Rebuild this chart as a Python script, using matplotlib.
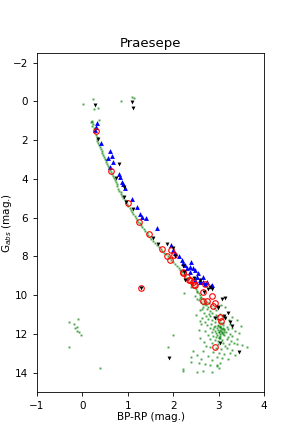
import matplotlib
matplotlib.use("Agg")
import matplotlib.pyplot as plt

# green: all cluster members (BP-RP, G_abs)
green_bprp = [
    # bright/top stragglers
    0.02, 0.23, 0.26, 0.34, 0.85, 1.10, 1.14, 0.37, 0.18, 0.21,
    # upper main sequence
    0.21, 0.23, 0.22, 0.25, 0.26, 0.28, 0.29, 0.31, 0.32, 0.33, 0.35, 0.37,
    0.38, 0.40, 0.42, 0.44, 0.45, 0.47, 0.49, 0.51, 0.53, 0.54, 0.57, 0.59,
    0.61, 0.63, 0.65, 0.67, 0.69, 0.71, 0.73, 0.76, 0.77, 0.79, 0.81, 0.84,
    0.86, 0.88, 0.90, 0.93, 0.96, 0.98, 1.01, 1.04, 1.06, 1.09, 1.12, 1.15,
    1.17, 1.20, 1.23, 1.26, 1.29, 1.32, 1.35, 1.38, 1.42, 1.45, 1.49, 1.52,
    1.56, 1.60, 1.64, 1.68, 1.72, 1.76, 1.80, 1.84, 1.88, 1.92, 1.96, 2.00,
    2.04, 2.08, 2.12, 2.16, 2.20, 2.23, 2.26, 2.30, 2.33, 2.36, 2.40, 2.44,
    2.47, 2.50, 2.53, 2.56, 2.59, 2.62, 2.65, 2.68, 2.71, 2.73, 2.76,
    2.40, 2.52, 2.58, 2.48, 2.66, 2.56, 2.74, 2.64,
    # lower main sequence cloud
    2.62, 2.70, 2.78, 2.66, 2.84, 2.74, 2.90, 2.60, 2.80, 2.95, 3.05, 2.52,
    3.15, 2.68, 2.78, 2.86, 2.94, 3.02, 2.72, 2.82, 2.90, 2.98, 3.08, 2.64,
    2.76, 2.86, 2.96, 3.04, 3.14, 2.58, 2.70, 2.92, 3.00, 3.10, 3.22, 3.30,
    2.50, 3.40, 2.62, 2.74, 2.84, 2.92, 2.98, 3.04, 3.10, 3.18, 3.26, 2.80,
    2.88, 2.96, 3.02, 3.06, 3.12, 3.20, 3.30, 2.70, 2.86, 2.94, 3.00, 3.08,
    3.16, 3.24, 3.36, 3.44, 2.56, 3.50, 2.76, 2.88, 2.96, 3.04, 3.12, 3.20,
    3.30, 2.82, 2.92, 3.00, 3.08, 3.18, 3.28, 3.40, 2.68, 2.86, 2.98, 3.10,
    3.22, 3.34, 3.52, 2.58, 3.62, 2.72, 3.14, 2.80, 2.94, 3.06, 3.18, 3.30,
    2.66, 2.88, 3.00, 3.12, 3.26, 2.52, 2.76, 2.96, 3.08, 3.20, 2.44, 2.62,
    2.86, 3.36, 2.40, 2.56, 2.70, 2.82, 2.96, 3.04, 3.00, 2.52, 2.66, 2.86,
    2.22, 2.22, 2.40, 2.96, 3.02, 3.06, 3.10, 2.98, 3.04, 3.08, 3.00, 3.12,
    2.98, 3.03, 3.07, 2.93, 3.01, 3.09, 2.95, 3.05, 2.90, 3.11, 2.99, 3.02,
    # outliers
    2.24, 1.89, 1.99, 3.40,
    # white dwarfs
    -0.30, -0.10, -0.18, -0.13, -0.16, -0.11, -0.07, -0.04, -0.29, 0.39,
]
green_gabs = [
    0.15, -0.14, 0.38, 0.35, -0.02, -0.22, -0.19, 0.94, 1.07, 1.01,
    1.05, 1.15, 1.25, 1.35, 1.50, 1.60, 1.72, 1.85, 1.95, 2.05, 2.15, 2.27,
    2.35, 2.45, 2.56, 2.65, 2.75, 2.85, 2.95, 3.05, 3.15, 3.24, 3.35, 3.45,
    3.55, 3.65, 3.75, 3.85, 3.95, 4.05, 4.15, 4.27, 4.35, 4.50, 4.60, 4.70,
    4.80, 4.90, 5.00, 5.10, 5.20, 5.30, 5.40, 5.50, 5.60, 5.70, 5.80, 5.92,
    6.00, 6.10, 6.20, 6.30, 6.40, 6.50, 6.60, 6.70, 6.80, 6.90, 7.00, 7.10,
    7.20, 7.30, 7.40, 7.50, 7.60, 7.70, 7.80, 7.90, 8.00, 8.10, 8.20, 8.30,
    8.40, 8.50, 8.60, 8.70, 8.80, 8.90, 9.00, 9.12, 9.20, 9.30, 9.40, 9.50,
    9.60, 9.70, 9.80, 9.90, 10.00, 10.10, 10.20, 10.30, 10.40, 10.50, 10.60,
    9.60, 9.85, 10.15, 10.05, 10.45, 10.25, 10.35, 10.70,
    10.35, 10.45, 10.40, 10.60, 10.55, 10.70, 10.65, 10.75, 10.80, 10.75, 10.50, 10.20,
    10.60, 10.90, 10.95, 10.90, 11.00, 10.95, 11.05, 11.10, 11.15, 11.10, 11.05, 11.20,
    11.25, 11.30, 11.25, 11.30, 11.20, 11.35, 11.40, 11.40, 11.38, 11.42, 11.30, 11.15,
    11.00, 11.30, 11.50, 11.55, 11.50, 11.60, 11.52, 11.60, 11.55, 11.62, 11.50, 11.70,
    11.75, 11.70, 11.78, 11.68, 11.80, 11.75, 11.70, 11.85, 11.90, 11.95, 11.88, 11.95,
    11.90, 11.98, 11.85, 11.95, 11.80, 11.60, 12.05, 12.10, 12.05, 12.12, 12.05, 12.15,
    12.10, 12.25, 12.30, 12.22, 12.30, 12.28, 12.35, 12.25, 12.40, 12.45, 12.50, 12.45,
    12.52, 12.45, 12.55, 12.20, 12.70, 12.60, 12.60, 12.70, 12.75, 12.80, 12.72, 12.85,
    12.90, 12.95, 13.00, 13.05, 13.00, 13.10, 13.15, 13.20, 13.25, 13.30, 12.90, 13.30,
    13.35, 13.10, 13.45, 13.50, 13.55, 13.60, 13.60, 13.50, 13.75, 13.95, 13.90, 13.95,
    13.80, 13.90, 13.20, 13.65, 11.65, 11.85, 11.72, 11.82, 12.00, 11.92, 12.18, 11.76,
    11.58, 11.66, 11.74, 11.83, 11.91, 12.02, 12.14, 11.46, 11.62, 11.88, 12.38, 12.20,
    9.91, 12.66, 12.08, 12.50,
    11.36, 11.25, 11.49, 11.63, 11.72, 11.86, 11.92, 12.06, 12.70, 13.76,
]

# blue: up triangles
blue_bprp = [0.31, 0.30, 0.28, 0.41, 0.61, 0.65, 0.56, 0.67, 0.61, 0.81,
             0.83, 0.87, 0.89, 0.93, 1.10, 1.20, 1.27, 1.31, 1.40, 1.65,
             1.94, 2.00, 2.05, 2.13, 2.19, 2.22, 2.39, 2.37, 2.43, 2.48,
             2.52, 2.59, 2.66, 2.74, 2.83, 2.37, 2.55, 2.48, 2.59, 2.70,
             2.85, 2.66, 2.30, 2.26]
blue_gabs = [1.12, 1.32, 1.50, 2.15, 2.58, 2.80, 2.92, 3.13, 3.39, 3.73,
             3.90, 4.16, 4.28, 4.45, 5.05, 5.45, 5.79, 5.96, 6.00, 6.56,
             7.42, 7.68, 7.85, 7.99, 8.20, 8.33, 8.28, 8.54, 8.62, 8.71,
             9.06, 9.23, 9.31, 9.31, 9.52, 8.80, 8.88, 9.23, 9.31, 9.40,
             9.48, 9.06, 8.60, 8.45]

# black: down triangles
black_bprp = [0.28, 1.10, 1.11, 0.35, 0.81, 0.73, 0.92, 0.92, 0.96, 1.11,
              1.56, 1.67, 1.86, 2.00, 2.04, 2.21, 2.24, 2.26, 2.46, 2.59,
              2.68, 2.77, 2.85, 1.28, 3.07, 3.15, 2.99, 3.12, 1.91, 3.03,
              3.46, 2.92, 3.20, 3.29, 2.81, 2.99, 3.14, 3.25]
black_gabs = [0.21, 0.03, 0.32, 1.92, 3.25, 3.98, 4.42, 4.93, 5.19, 5.57,
              7.03, 7.34, 7.34, 7.59, 7.99, 8.50, 8.80, 9.23, 9.14, 9.23,
              9.83, 9.69, 9.69, 9.62, 10.20, 10.14, 10.60, 11.08, 13.25, 12.49,
              12.92, 11.20, 10.90, 11.60, 9.57, 10.67, 11.19, 11.38]

# red: open circles
red_bprp = [0.29, 0.64, 1.01, 1.24, 1.46, 1.75, 1.95, 2.02, 1.86, 1.93,
            2.22, 2.30, 2.35, 2.43, 2.46, 2.70, 2.66, 2.85, 2.65, 2.74,
            2.92, 2.87, 1.28, 3.03, 3.05, 2.91, 2.22, 2.37, 2.48]
red_gabs = [1.53, 3.61, 5.24, 6.22, 6.86, 7.63, 7.68, 7.95, 7.99, 8.20,
            8.80, 9.06, 9.23, 9.31, 9.48, 9.43, 9.83, 10.04, 10.29, 10.29,
            10.38, 10.57, 9.62, 11.12, 11.34, 12.70, 8.88, 9.23, 9.48]

fig = plt.figure(figsize=(2.94, 4.41), dpi=100)
ax = fig.add_axes([0.126, 0.111, 0.772, 0.769])

ax.plot(green_bprp, green_gabs, ls="none", marker="s", ms=1.4, mew=0,
        color="green", alpha=0.7)
ax.plot(blue_bprp, blue_gabs, ls="none", marker="^", ms=3.5, mew=0,
        color="blue")
ax.plot(red_bprp, red_gabs, ls="none", marker="o", ms=4.0, mfc="none",
        mec="red", mew=0.8)
ax.plot(black_bprp, black_gabs, ls="none", marker="v", ms=2.8, mew=0,
        color="black")

ax.set_xlim(-1, 4)
ax.set_ylim(15, -2.5)
ax.set_xticks([-1, 0, 1, 2, 3, 4])
ax.set_yticks([-2, 0, 2, 4, 6, 8, 10, 12, 14])
ax.tick_params(labelsize=7.5, length=3, width=0.6)
for s in ax.spines.values():
    s.set_linewidth(0.6)
ax.set_xlabel("BP-RP (mag.)", fontsize=7.5, labelpad=1)
ax.set_ylabel("G$_{abs}$ (mag.)", fontsize=7.5)
ax.yaxis.set_label_coords(-0.10, 0.5)
ax.set_title("Praesepe", fontsize=9.5, pad=4)

fig.savefig("out.png", dpi=100)
